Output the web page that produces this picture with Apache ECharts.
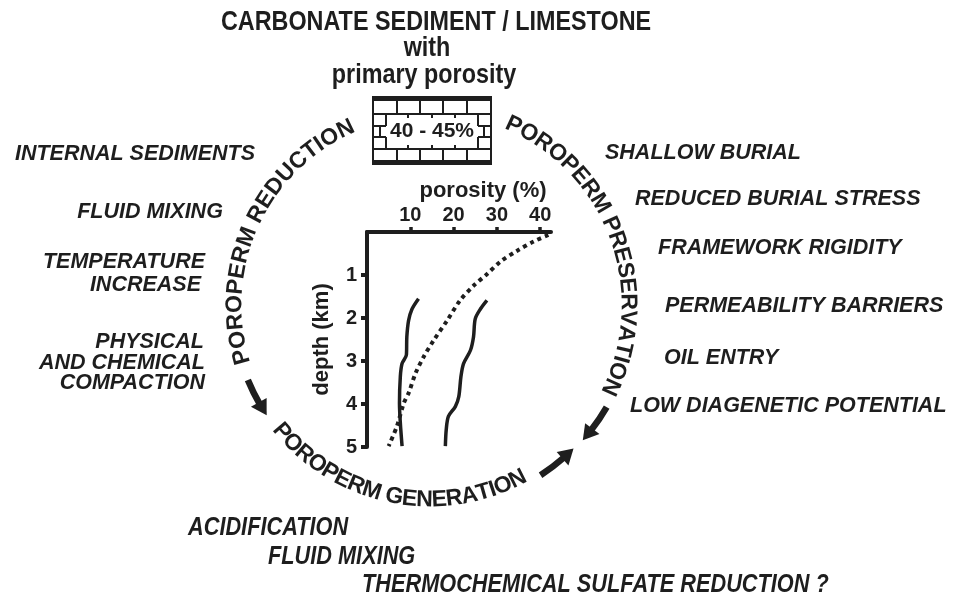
<!DOCTYPE html>
<html>
<head>
<meta charset="utf-8">
<script src="https://cdn.jsdelivr.net/npm/echarts@6/dist/echarts.min.js"></script>
<style>
html, body { margin: 0; padding: 0; background: #fff; }
#main { width: 965px; height: 596px; }
</style>
</head>
<body>
<div id="main"></div>
<script>
// porosity-depth curves
var depthLeft = [1.55, 1.79, 2.06, 2.44, 2.86, 3.06, 3.36, 3.98, 4.44, 4.98];
var porosityLeft = [11.9, 10.4, 9.6, 9.2, 9.1, 8.1, 7.7, 7.5, 7.7, 8.1];
var depthRight = [1.59, 1.79, 2.02, 2.44, 2.75, 3.06, 3.36, 3.83, 4.06, 4.29, 4.60, 4.98];
var porosityRight = [27.7, 26.2, 25.0, 24.6, 23.9, 22.3, 21.7, 21.2, 20.4, 18.8, 18.3, 18.1];
var depthDotted = [0.07, 0.22, 0.44, 0.69, 0.98, 1.25, 1.59, 2.06, 2.52, 2.90, 3.29, 3.75, 3.98, 4.52, 4.98];
var porosityDotted = [41.9, 38.5, 34.6, 30.8, 27.7, 24.6, 21.5, 18.5, 15.4, 13.1, 11.2, 9.6, 8.5, 6.9, 5.0];
// ticks
var porosityTicks = [10, 20, 30, 40];
var depthTicks = [1, 2, 3, 4, 5];
// texts
var titleLines = ['CARBONATE SEDIMENT / LIMESTONE', 'with', 'primary porosity'];
var brickLabel = '40 - 45%';
var arcLabels = ['POROPERM REDUCTION', 'POROPERM PRESERVATION', 'POROPERM GENERATION'];
var reductionLabels = ['INTERNAL SEDIMENTS', 'FLUID MIXING', 'TEMPERATURE', 'INCREASE', 'PHYSICAL', 'AND CHEMICAL', 'COMPACTION'];
var preservationLabels = ['SHALLOW BURIAL', 'REDUCED BURIAL STRESS', 'FRAMEWORK RIGIDITY', 'PERMEABILITY BARRIERS', 'OIL ENTRY', 'LOW DIAGENETIC POTENTIAL'];
var generationLabels = ['ACIDIFICATION', 'FLUID MIXING', 'THERMOCHEMICAL SULFATE REDUCTION ?'];

var INK = '#1e1e1e';
var FONT = '"Liberation Sans", Arial, sans-serif';
var CX = 430, CY = 305;
var DEG = Math.PI / 180;

function zip(xs, ys) {
    return xs.map(function (x, i) { return [x, ys[i]]; });
}

//普通文字
function txt(text, x, y, o) {
    o = o || {};
    return {
        type: 'text', x: x, y: y, scaleX: o.sx || 1, rotation: o.rot || 0, z: 10,
        style: {
            text: text, x: 0, y: 0,
            align: o.align || 'left', verticalAlign: 'middle',
            fontFamily: FONT, fontSize: o.size || 21.5, fontWeight: 'bold',
            fontStyle: o.italic ? 'italic' : 'normal', fill: INK
        }
    };
}

//沿圆弧排文字
var ctx = document.createElement('canvas').getContext('2d');
function arcText(text, r, a0, a1, size, inside) {
    ctx.font = 'bold ' + size + 'px ' + FONT;
    var chars = text.split(''),
        w = chars.map(function (c) { return ctx.measureText(c).width; }),
        total = w.reduce(function (s, v) { return s + v; }, 0) - w[0] / 2 - w[w.length - 1] / 2,
        cum = 0,
        out = [];
    chars.forEach(function (c, i) {
        var pos = cum + w[i] / 2 - w[0] / 2,
            th = (a0 + (a1 - a0) * pos / total) * DEG,
            rot = inside ? Math.atan2(Math.cos(th), Math.sin(th)) : Math.atan2(-Math.cos(th), -Math.sin(th));
        cum += w[i];
        if (c === ' ') return;
        out.push(txt(c, CX + r * Math.cos(th), CY + r * Math.sin(th), { size: size, align: 'center', rot: rot }));
    });
    return out;
}

//弯箭头
function arrow(r, a0, a1) {
    var dir = a1 > a0 ? 1 : -1,
        headLen = 15, headW = 18,
        aTip = a1 * DEG,
        aBase = aTip - dir * headLen / r,
        tip = [CX + r * Math.cos(aTip), CY + r * Math.sin(aTip)],
        b1 = [CX + (r - headW / 2) * Math.cos(aBase), CY + (r - headW / 2) * Math.sin(aBase)],
        b2 = [CX + (r + headW / 2) * Math.cos(aBase), CY + (r + headW / 2) * Math.sin(aBase)],
        s = Math.min(a0 * DEG, aBase + dir * 0.01), e = Math.max(a0 * DEG, aBase + dir * 0.01);
    return [{
        type: 'arc', z: 10,
        shape: { cx: CX, cy: CY, r: r, startAngle: s, endAngle: e, clockwise: true },
        style: { stroke: INK, lineWidth: 6.5, fill: null }
    }, {
        type: 'polygon', z: 10,
        shape: { points: [tip, b1, b2] },
        style: { fill: INK }
    }];
}

//砖块图标
function brick() {
    var g = [], L = 373, R = 491, T = 97, B = 164;
    function line(x1, y1, x2, y2) {
        g.push({ type: 'line', z: 9, shape: { x1: x1, y1: y1, x2: x2, y2: y2 }, style: { stroke: INK, lineWidth: 2 } });
    }
    g.push({ type: 'rect', z: 8, shape: { x: L, y: T, width: R - L, height: B - T }, style: { fill: '#fff', stroke: INK, lineWidth: 2 } });
    g.push({ type: 'rect', z: 9, shape: { x: L, y: T, width: R - L, height: 4 }, style: { fill: INK } });
    g.push({ type: 'rect', z: 9, shape: { x: L, y: B - 4, width: R - L, height: 4 }, style: { fill: INK } });
    line(L, 114, R, 114);
    line(L, 149, R, 149);
    [397, 420, 443, 467].forEach(function (x) { line(x, T + 4, x, 114); line(x, 149, x, B - 4); });
    [408, 432, 455].forEach(function (x) { line(x, 114, x, 118); line(x, 145, x, 149); });
    line(L, 126, 386, 126); line(L, 137, 386, 137);
    line(478, 126, R, 126); line(478, 137, R, 137);
    line(386, 114, 386, 126); line(386, 137, 386, 149);
    line(478, 114, 478, 126); line(478, 137, 478, 149);
    line(380, 126, 380, 137); line(484, 126, 484, 137);
    g.push(txt(brickLabel, 432, 131, { size: 21, align: 'center' }));
    return g;
}

var graphic = [];
//标题
graphic.push(txt(titleLines[0], 436, 22, { size: 28.5, sx: 0.82, align: 'center' }));
graphic.push(txt(titleLines[1], 427, 48, { size: 28.5, sx: 0.82, align: 'center' }));
graphic.push(txt(titleLines[2], 424, 75, { size: 28.5, sx: 0.82, align: 'center' }));
graphic = graphic.concat(brick());
//圆弧文字
graphic = graphic.concat(arcText(arcLabels[0], 195, 164.7, 244.4, 23, false));
graphic = graphic.concat(arcText(arcLabels[1], 198, 295, 384.4, 23, false));
graphic = graphic.concat(arcText(arcLabels[2], 195, 139.5, 63.2, 23, true));
//箭头
graphic = graphic.concat(arrow(197, 157.6, 146));
graphic = graphic.concat(arrow(203, 57, 45));
graphic = graphic.concat(arrow(204, 30, 41.5));
//左侧
graphic.push(txt(reductionLabels[0], 135, 154, { italic: true, align: 'center' }));
graphic.push(txt(reductionLabels[1], 150, 212, { italic: true, align: 'center' }));
graphic.push(txt(reductionLabels[2], 205, 262, { italic: true, align: 'right' }));
graphic.push(txt(reductionLabels[3], 201, 285, { italic: true, align: 'right' }));
graphic.push(txt(reductionLabels[4], 204, 342, { italic: true, align: 'right' }));
graphic.push(txt(reductionLabels[5], 205, 363, { italic: true, align: 'right' }));
graphic.push(txt(reductionLabels[6], 205, 383, { italic: true, align: 'right' }));
//右侧
[[605, 153], [635, 199], [658, 248], [665, 306], [664, 358], [630, 406]].forEach(function (p, i) {
    graphic.push(txt(preservationLabels[i], p[0], p[1], { italic: true }));
});
//底部
[[188, 528], [268, 557], [362, 585]].forEach(function (p, i) {
    graphic.push(txt(generationLabels[i], p[0], p[1], { italic: true, size: 26.5, sx: 0.82 }));
});

var axisFont = { fontFamily: FONT, fontWeight: 'bold', fontSize: 20, color: INK };
var chart = echarts.init(document.getElementById('main'));
chart.setOption({
    animation: false,
    backgroundColor: '#fff',
    grid: { left: 367, top: 232, width: 184, height: 215 },
    xAxis: {
        type: 'value', position: 'top', min: 0, max: 42.5,
        name: 'porosity (%)', nameLocation: 'middle', nameGap: 30,
        nameTextStyle: { fontFamily: FONT, fontWeight: 'bold', fontSize: 22, color: INK, padding: [0, 0, 0, 48] },
        axisLine: { show: true, onZero: false, lineStyle: { color: INK, width: 4 } },
        axisTick: { show: true, length: 5, customValues: porosityTicks, lineStyle: { color: INK, width: 3.5 } },
        axisLabel: Object.assign({ customValues: porosityTicks, margin: 7 }, axisFont),
        splitLine: { show: false }
    },
    yAxis: {
        type: 'value', inverse: true, min: 0, max: 5,
        name: 'depth (km)', nameLocation: 'middle', nameGap: 34, nameRotate: 90,
        nameTextStyle: { fontFamily: FONT, fontWeight: 'bold', fontSize: 22, color: INK },
        axisLine: { show: true, onZero: false, lineStyle: { color: INK, width: 4 } },
        axisTick: { show: true, length: 6, customValues: depthTicks, lineStyle: { color: INK, width: 4 } },
        axisLabel: Object.assign({ customValues: depthTicks, margin: 10 }, axisFont),
        splitLine: { show: false }
    },
    series: [{
        type: 'line', data: zip(porosityLeft, depthLeft), smooth: 0.3, symbol: 'none',
        lineStyle: { color: INK, width: 3.5 }
    }, {
        type: 'line', data: zip(porosityRight, depthRight), smooth: 0.3, symbol: 'none',
        lineStyle: { color: INK, width: 3.5 }
    }, {
        type: 'line', data: zip(porosityDotted, depthDotted), smooth: 0.3, symbol: 'none',
        lineStyle: { color: INK, width: 4, type: [4, 4] }
    }],
    graphic: graphic
});
</script>
</body>
</html>
